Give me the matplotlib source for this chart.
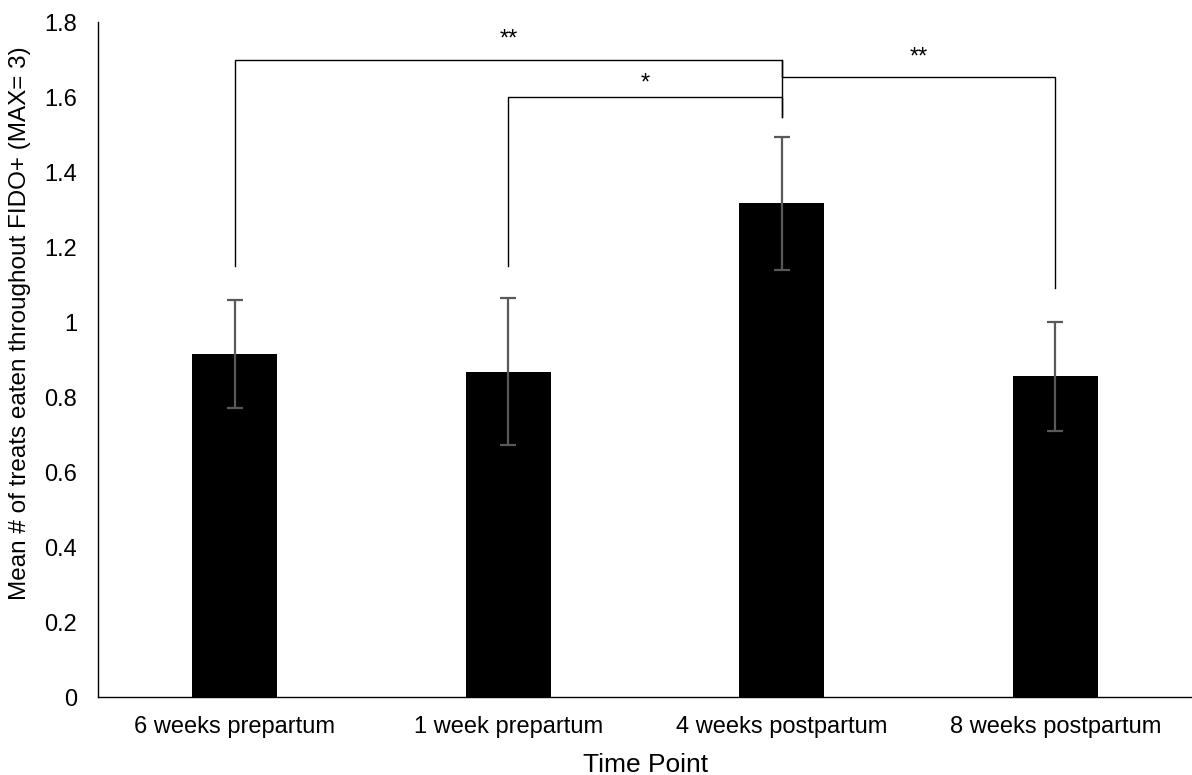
import matplotlib
matplotlib.use("Agg")
import matplotlib.pyplot as plt
from matplotlib.ticker import FuncFormatter

categories = ["6 weeks prepartum", "1 week prepartum", "4 weeks postpartum", "8 weeks postpartum"]
means = [0.915, 0.868, 1.317, 0.855]
errors = [0.145, 0.195, 0.177, 0.145]
yticks = [0, 0.2, 0.4, 0.6, 0.8, 1.0, 1.2, 1.4, 1.6, 1.8]

# brackets: (left idx, right idx, top y, left foot y, right foot y, label, label y)
brackets = [
    (0, 2, 1.70, 1.15, 1.548, "**", 1.753),
    (1, 2, 1.60, 1.15, 1.548, "*", 1.636),
    (2, 3, 1.653, 1.70, 1.09, "**", 1.705),
]

plt.rcParams["font.family"] = ["Liberation Sans", "DejaVu Sans"]
fig = plt.figure(figsize=(11.92, 7.75), dpi=100)
ax = fig.add_axes([0.0822, 0.1006, 0.918, 0.871])

x = list(range(len(categories)))
ax.bar(x, means, width=0.31, color="black", zorder=2)
ax.errorbar(x, means, yerr=errors, fmt="none", ecolor="#595959", elinewidth=1.6,
            capsize=6, capthick=1.6, zorder=3)

for (i, j, top, lf, rf, lab, ly) in brackets:
    ax.plot([i, i, j, j], [lf, top, top, rf], color="black", lw=1.0, zorder=4,
            solid_joinstyle="miter")
    ax.text((i + j) / 2, ly, lab, ha="center", va="center", fontsize=17)

ax.set_xlim(-0.5, 3.5)
ax.set_ylim(0, 1.8)
ax.set_yticks(yticks)
ax.yaxis.set_major_formatter(FuncFormatter(lambda v, p: f"{v:g}"))
ax.set_xticks(x)
ax.set_xticklabels(categories)
ax.tick_params(axis="both", length=0, labelsize=17)
ax.tick_params(axis="y", pad=15)
ax.tick_params(axis="x", pad=14)
for s in ["top", "right"]:
    ax.spines[s].set_visible(False)
for s in ["left", "bottom"]:
    ax.spines[s].set_linewidth(1.0)
ax.set_xlabel("Time Point", fontsize=19)
ax.xaxis.set_label_coords(0.5, -0.083)
ax.set_ylabel("Mean # of treats eaten throughout FIDO+ (MAX= 3)", fontsize=17.5)
ax.yaxis.set_label_coords(-0.061, 0.554)

fig.savefig("out.png", dpi=100)
